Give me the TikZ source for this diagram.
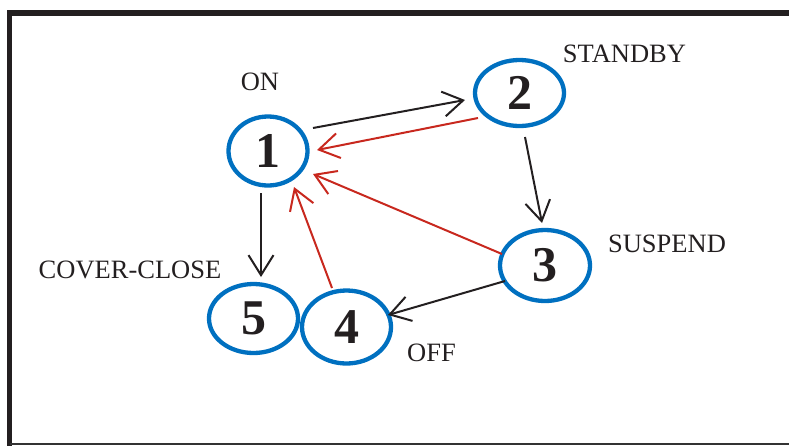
\documentclass[tikz,border=0pt]{standalone}
\usepackage{fontspec}
\setmainfont{Liberation Serif}
\usetikzlibrary{shapes.geometric,arrows.meta,calc}
\definecolor{stblue}{RGB}{0,112,192}
\definecolor{stred}{RGB}{200,40,30}
\definecolor{stblack}{RGB}{35,31,32}
\begin{document}
\begin{tikzpicture}[x=1pt,y=-1pt,
  state/.style={ellipse,draw=stblue,line width=4.3pt,inner sep=0pt,
    font=\fontsize{50}{50}\selectfont\bfseries,text=stblack},
  lbl/.style={inner sep=0pt,font=\fontsize{26.5}{26.5}\selectfont,text=stblack},
  tr/.style={line width=2pt,-{Straight Barb[length=20pt,width=25pt,line width=2pt]}},
  blk/.style={tr,draw=stblack},
  rd/.style={tr,draw=stred}]
\useasboundingbox (0,0) rectangle (789,445);
% frame
\draw[line width=5.5pt,stblack] (800,13) -- (9.5,13) -- (9.5,450);
\draw[line width=2pt,black!80] (9.5,444) -- (800,444);
% states
\node[state,minimum width=79pt,minimum height=69pt] (n1) at (268,151) {1};
\node[state,minimum width=89pt,minimum height=66pt] (n2) at (519.5,93) {2};
\node[state,minimum width=90pt,minimum height=71pt] (n3) at (545,265.5) {3};
\node[state,minimum width=89pt,minimum height=73pt] (n4) at (346.5,327) {4};
\node[state,minimum width=89pt,minimum height=69pt] (n5) at (253.5,318.5) {5};
% labels
\node[lbl] (lon) at (260,81.5) {ON};
\node[lbl] (lstandby) at (624.5,54) {STANDBY};
\node[lbl] (lsuspend) at (667,244) {SUSPEND};
\node[lbl] (lcover) at (130,269.5) {COVER-CLOSE};
\node[lbl] (loff) at (431.5,352.5) {OFF};
% transitions
\draw[blk] ($(n1)+(45,-23)$) -- ($(n2)+(-54.5,7)$);
\draw[rd] ($(n2)+(-41.5,25)$) -- ($(n1)+(49,-1)$);
\draw[blk] ($(n2)+(5.5,44)$) -- ($(n3)+(-3,-42.5)$);
\draw[rd] ($(n3)+(-43,-11.5)$) -- ($(n1)+(45,23)$);
\draw[rd] ($(n4)+(-14.5,-39)$) -- ($(n1)+(26,36)$);
\draw[blk] ($(n1)+(-7,42)$) -- ($(n5)+(7.5,-41.5)$);
\draw[blk] ($(n3)+(-40,15.5)$) -- ($(n4)+(41.5,-12)$);
\end{tikzpicture}
\end{document}
